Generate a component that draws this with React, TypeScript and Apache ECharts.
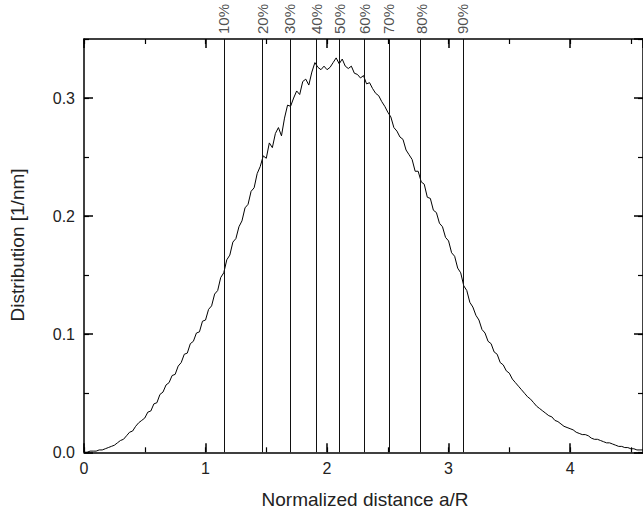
import React, { useEffect, useRef } from "react";
import * as echarts from "echarts";

// Distribution curve: [normalized distance a/R, distribution 1/nm]
const distributionCurve: [number, number][] = [
  [0.000, 0.000], [0.025, 0.000], [0.050, 0.001], [0.075, 0.001], [0.100, 0.001],
  [0.125, 0.002], [0.150, 0.002], [0.175, 0.003], [0.200, 0.004], [0.225, 0.005],
  [0.250, 0.006], [0.275, 0.008], [0.300, 0.010], [0.325, 0.011], [0.350, 0.014],
  [0.375, 0.017], [0.400, 0.018], [0.425, 0.022], [0.450, 0.025], [0.475, 0.027],
  [0.500, 0.029], [0.525, 0.034], [0.550, 0.035], [0.575, 0.041], [0.600, 0.042],
  [0.625, 0.049], [0.650, 0.051], [0.675, 0.057], [0.700, 0.059], [0.725, 0.065],
  [0.750, 0.066], [0.775, 0.073], [0.800, 0.076], [0.825, 0.083], [0.850, 0.084],
  [0.875, 0.092], [0.900, 0.094], [0.925, 0.101], [0.950, 0.102], [0.975, 0.111],
  [1.000, 0.112], [1.025, 0.121], [1.050, 0.124], [1.075, 0.134], [1.100, 0.137],
  [1.125, 0.148], [1.150, 0.152], [1.175, 0.163], [1.200, 0.167], [1.225, 0.178],
  [1.250, 0.181], [1.275, 0.191], [1.300, 0.196], [1.325, 0.207], [1.350, 0.210],
  [1.375, 0.221], [1.400, 0.224], [1.425, 0.236], [1.450, 0.242], [1.475, 0.251],
  [1.500, 0.249], [1.525, 0.262], [1.550, 0.258], [1.575, 0.270], [1.600, 0.275],
  [1.625, 0.268], [1.650, 0.283], [1.675, 0.294], [1.700, 0.293], [1.725, 0.300],
  [1.750, 0.306], [1.775, 0.303], [1.800, 0.314], [1.825, 0.316], [1.850, 0.311],
  [1.875, 0.322], [1.900, 0.330], [1.925, 0.326], [1.950, 0.324], [1.975, 0.327],
  [2.000, 0.324], [2.025, 0.326], [2.050, 0.330], [2.075, 0.334], [2.100, 0.329],
  [2.125, 0.333], [2.150, 0.327], [2.175, 0.325], [2.200, 0.327], [2.225, 0.321],
  [2.250, 0.320], [2.275, 0.317], [2.300, 0.319], [2.325, 0.312], [2.350, 0.313],
  [2.375, 0.308], [2.400, 0.304], [2.425, 0.302], [2.450, 0.297], [2.475, 0.293],
  [2.500, 0.288], [2.525, 0.284], [2.550, 0.275], [2.575, 0.272], [2.600, 0.267],
  [2.625, 0.265], [2.650, 0.256], [2.675, 0.252], [2.700, 0.248], [2.725, 0.238],
  [2.750, 0.238], [2.775, 0.229], [2.800, 0.227], [2.825, 0.216], [2.850, 0.215],
  [2.875, 0.205], [2.900, 0.203], [2.925, 0.194], [2.950, 0.191], [2.975, 0.182],
  [3.000, 0.179], [3.025, 0.169], [3.050, 0.166], [3.075, 0.156], [3.100, 0.152],
  [3.125, 0.141], [3.150, 0.137], [3.175, 0.127], [3.200, 0.123], [3.225, 0.116],
  [3.250, 0.112], [3.275, 0.104], [3.300, 0.101], [3.325, 0.094], [3.350, 0.092],
  [3.375, 0.085], [3.400, 0.083], [3.425, 0.076], [3.450, 0.074], [3.475, 0.069],
  [3.500, 0.067], [3.525, 0.062], [3.550, 0.059], [3.575, 0.056], [3.600, 0.053],
  [3.625, 0.050], [3.650, 0.047], [3.675, 0.045], [3.700, 0.042], [3.725, 0.039],
  [3.750, 0.037], [3.775, 0.035], [3.800, 0.033], [3.825, 0.031], [3.850, 0.030],
  [3.875, 0.027], [3.900, 0.026], [3.925, 0.024], [3.950, 0.022], [3.975, 0.021],
  [4.000, 0.020], [4.025, 0.019], [4.050, 0.017], [4.075, 0.016], [4.100, 0.015],
  [4.125, 0.015], [4.150, 0.014], [4.175, 0.012], [4.200, 0.011], [4.225, 0.011],
  [4.250, 0.010], [4.275, 0.009], [4.300, 0.008], [4.325, 0.008], [4.350, 0.007],
  [4.375, 0.006], [4.400, 0.005], [4.425, 0.005], [4.450, 0.004], [4.475, 0.004],
  [4.500, 0.003], [4.525, 0.003], [4.550, 0.002], [4.575, 0.002], [4.600, 0.002],
];

// Percentile positions (a/R) and their labels
const percentilePositions = [1.149, 1.469, 1.695, 1.911, 2.1, 2.305, 2.507, 2.774, 3.116];
const percentileLabels = ["10%", "20%", "30%", "40%", "50%", "60%", "70%", "80%", "90%"];

const X_MIN = 0;
const X_MAX = 4.6;
const Y_MIN = 0;
const Y_MAX = 0.35;

const X_TITLE = "Normalized distance a/R";
const Y_TITLE = "Distribution [1/nm]";

const FONT = '"Liberation Sans", Arial, sans-serif';
const INK = "#000";
const TEXT = "#222";

export default function App() {
  const ref = useRef<HTMLDivElement>(null);

  useEffect(() => {
    if (!ref.current) return;
    const chart = echarts.init(ref.current, undefined, { renderer: "svg" });

    const gridBox = { left: 84, top: 39, width: 561.5, height: 413.3 };

    const majorX = (position: string, showLabel: boolean, gridIndex: number) => ({
      type: "value",
      gridIndex,
      position,
      min: X_MIN,
      max: X_MAX,
      interval: 1,
      axisLine: { show: true, onZero: false, lineStyle: { color: INK, width: 1.5 } },
      axisTick: { show: true, inside: true, length: 9, lineStyle: { color: INK, width: 1.5 } },
      axisLabel: {
        show: showLabel,
        margin: 8,
        fontSize: 16,
        fontFamily: FONT,
        color: TEXT,
        showMaxLabel: false,
      },
      splitLine: { show: false },
    });
    const minorX = (position: string, gridIndex: number) => ({
      type: "value",
      gridIndex,
      position,
      min: X_MIN,
      max: X_MAX,
      interval: 0.5,
      axisLine: { show: false, onZero: false },
      axisTick: { show: true, inside: true, length: 5, lineStyle: { color: INK, width: 1.2 } },
      axisLabel: { show: false },
      splitLine: { show: false },
    });
    const majorY = (position: string, showLabel: boolean, gridIndex: number) => ({
      type: "value",
      gridIndex,
      position,
      min: Y_MIN,
      max: Y_MAX,
      interval: 0.1,
      axisLine: { show: true, onZero: false, lineStyle: { color: INK, width: 1.5 } },
      axisTick: { show: true, inside: true, length: 9, lineStyle: { color: INK, width: 1.5 } },
      axisLabel: {
        show: showLabel,
        margin: 9,
        fontSize: 16,
        fontFamily: FONT,
        color: TEXT,
        showMaxLabel: false,
        formatter: (v: number) => v.toFixed(1),
      },
      splitLine: { show: false },
    });
    const minorY = (position: string, gridIndex: number) => ({
      type: "value",
      gridIndex,
      position,
      min: Y_MIN,
      max: Y_MAX,
      interval: 0.05,
      axisLine: { show: false, onZero: false },
      axisTick: { show: true, inside: true, length: 5, lineStyle: { color: INK, width: 1.2 } },
      axisLabel: { show: false },
      splitLine: { show: false },
    });

    chart.setOption({
      animation: false,
      backgroundColor: "#fff",
      grid: [{ ...gridBox }, { ...gridBox }],
      xAxis: [
        majorX("bottom", true, 0),
        majorX("top", false, 0),
        minorX("bottom", 1),
        minorX("top", 1),
      ],
      yAxis: [
        majorY("left", true, 0),
        majorY("right", false, 0),
        minorY("left", 1),
        minorY("right", 1),
      ],
      graphic: [
        {
          type: "text",
          x: 365,
          y: 499,
          style: {
            text: X_TITLE,
            fontSize: 19,
            fontFamily: FONT,
            fill: TEXT,
            align: "center",
            verticalAlign: "middle",
          },
        },
        {
          type: "text",
          x: 17,
          y: 245,
          rotation: Math.PI / 2,
          style: {
            text: Y_TITLE,
            fontSize: 19,
            fontFamily: FONT,
            fill: TEXT,
            align: "center",
            verticalAlign: "middle",
          },
        },
      ],
      series: [
        {
          type: "line",
          xAxisIndex: 0,
          yAxisIndex: 0,
          data: distributionCurve,
          showSymbol: false,
          symbol: "none",
          lineStyle: { color: INK, width: 1 },
          silent: true,
          markLine: {
            silent: true,
            symbol: ["none", "none"],
            label: { show: false },
            lineStyle: { color: "#111", width: 1, type: "solid" },
            data: percentilePositions.map((p) => ({ xAxis: p })),
          },
        },
        {
          type: "scatter",
          xAxisIndex: 0,
          yAxisIndex: 0,
          symbolSize: 0,
          silent: true,
          data: percentilePositions.map((p) => [p, Y_MAX]),
          label: {
            show: true,
            position: "top",
            distance: 5,
            rotate: 90,
            align: "left",
            verticalAlign: "middle",
            fontSize: 15,
            fontFamily: FONT,
            color: TEXT,
            formatter: (params: any) => percentileLabels[params.dataIndex],
          },
        },
      ],
    });

    return () => chart.dispose();
  }, []);

  return (
    <div
      ref={ref}
      style={{ position: "absolute", left: 0, top: 0, width: 643, height: 516 }}
    />
  );
}
